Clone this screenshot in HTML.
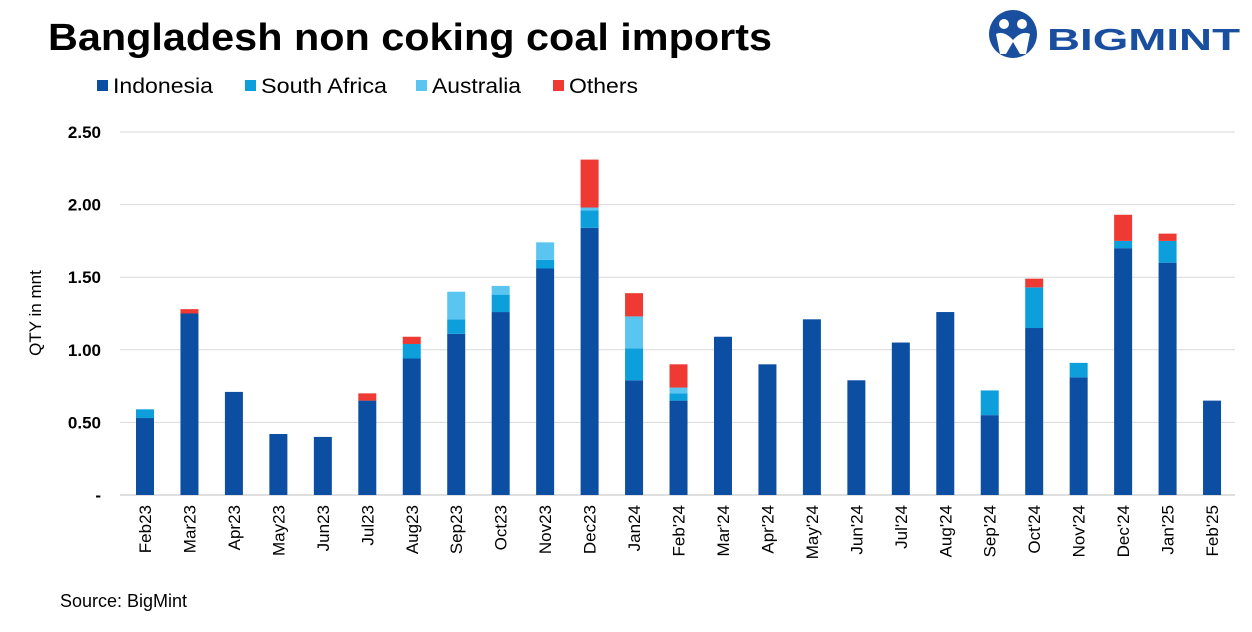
<!DOCTYPE html>
<html><head><meta charset="utf-8"><style>
body{margin:0;background:#fff;width:1252px;height:627px;overflow:hidden;font-family:"Liberation Sans",Arial,sans-serif}
</style></head><body>
<svg width="1252" height="627" id="svg" xmlns="http://www.w3.org/2000/svg">
<text x="48" y="50" font-size="38" font-weight="bold" fill="#000" textLength="724" lengthAdjust="spacingAndGlyphs">Bangladesh non coking coal imports</text>
<g>
<circle cx="1013" cy="34" r="24" fill="#1a4fa0"/>
<circle cx="1004" cy="24" r="5" fill="#fff"/><circle cx="1022" cy="24" r="5" fill="#fff"/>
<path d="M996 34 q8 -4 17 6 q9 -10 17 -6 l-4 20 h-6 l-7 -12 l-7 12 h-6z" fill="#fff"/>
<text x="1047" y="50" font-size="31" font-weight="bold" fill="#1a4fa0" textLength="193" lengthAdjust="spacingAndGlyphs">BIGMINT</text>
</g>
<g id="legend"></g>
<text transform="translate(41,313) rotate(-90)" text-anchor="middle" font-size="17" fill="#000">QTY in mnt</text>
<g id="grid"></g><g id="bars"></g><g id="xl"></g>
<text x="60" y="607" font-size="18" fill="#000">Source: BigMint</text>
</svg>
<script>
const categories=["Feb23","Mar23","Apr23","May23","Jun23","Jul23","Aug23","Sep23","Oct23","Nov23","Dec23","Jan24","Feb'24","Mar'24","Apr'24","May'24","Jun'24","Jul'24","Aug'24","Sep'24","Oct'24","Nov'24","Dec'24","Jan'25","Feb'25"];
const indonesia=[0.53,1.25,0.71,0.42,0.40,0.65,0.94,1.11,1.26,1.56,1.84,0.79,0.65,1.09,0.90,1.21,0.79,1.05,1.26,0.55,1.15,0.81,1.70,1.60,0.65];
const southAfrica=[0.06,0,0,0,0,0,0.10,0.10,0.12,0.06,0.12,0.22,0.05,0,0,0,0,0,0,0.17,0.28,0.10,0.05,0.15,0];
const australia=[0,0,0,0,0,0,0,0.19,0.06,0.12,0.02,0.22,0.04,0,0,0,0,0,0,0,0,0,0,0,0];
const others=[0,0.03,0,0,0,0.05,0.05,0,0,0,0.33,0.16,0.16,0,0,0,0,0,0,0,0.06,0,0.18,0.05,0];
const ticks=[0,0.5,1,1.5,2,2.5];
const tickLabels=["-","0.50","1.00","1.50","2.00","2.50"];
const seriesNames=["Indonesia","South Africa","Australia","Others"];
const colors=["#0b4ea2","#0c9fdc","#5bc5f2","#ee3a33"];
const NS="http://www.w3.org/2000/svg";
const y=v=>495-v*145.2;
const x=i=>145+i*44.46;
function mk(t,a,p){const e=document.createElementNS(NS,t);for(const k in a)e.setAttribute(k,a[k]);p.appendChild(e);return e;}
const grid=document.getElementById('grid');
ticks.forEach((t,i)=>{
 const l=mk('line',{x1:120,x2:1235,y1:y(t),y2:y(t),stroke:i==0?'#bfbfbf':'#d9d9d9','stroke-width':1},grid);
 
 
 const tx=mk('text',{x:101,y:y(t)+6,'text-anchor':'end','font-size':17,'font-weight':'bold'},grid);
 tx.textContent=tickLabels[i];
 
 
});
const bars=document.getElementById('bars');
const series=[indonesia,southAfrica,australia,others];
categories.forEach((c,i)=>{
 let base=0;
 series.forEach((s,k)=>{
  const v=s[i]; if(v<=0)return;
  const r=mk('rect',{x:x(i)-9,width:18,y:y(base+v),height:v*145.2,fill:colors[k]},bars);
  
  
  base+=v;
 });
 const t=mk('text',{transform:`translate(${x(i)+6},505) rotate(-90)`,'text-anchor':'end','font-size':17},document.getElementById('xl'));
 t.textContent=c;
 
 
});
const lg=document.getElementById('legend');
const lx=[97,245,416,553];
const lw=[100,126,89,69];
seriesNames.forEach((n,k)=>{
 const r=mk('rect',{x:lx[k],y:80,width:11,height:11,fill:colors[k]},lg);
 
 
 const t=mk('text',{x:lx[k]+16,y:93,'font-size':21,textLength:lw[k],lengthAdjust:'spacingAndGlyphs'},lg);
 t.textContent=n;
 
 
});
</script>
</body></html>
